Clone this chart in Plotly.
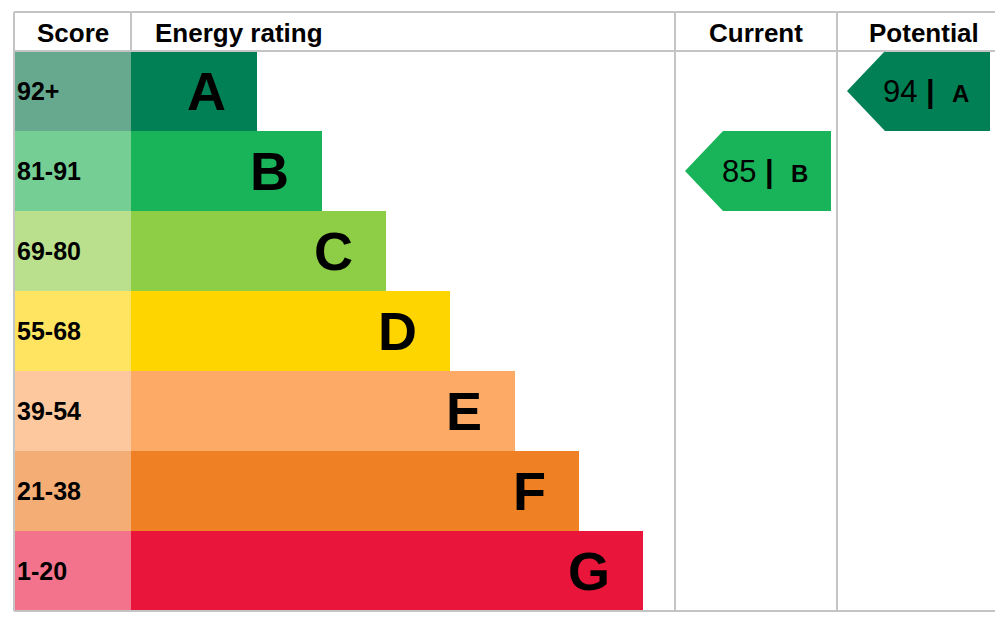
import plotly.graph_objects as go

# Data
bands = ["A", "B", "C", "D", "E", "F", "G"]
scores = ["92+", "81-91", "69-80", "55-68", "39-54", "21-38", "1-20"]
bar_ends = [249, 314, 378, 442, 507, 571, 635]  # right edge of each rating bar (px units)
band_colors = ["#008054", "#19b459", "#8dce46", "#ffd500", "#fcaa65", "#ef8023", "#e9153b"]
score_colors = ["#66a98f", "#75cf94", "#bbe08d", "#ffe461", "#fdc89d", "#f4ad74", "#f2738b"]
current = (85, "B")
potential = (94, "A")

TOP, HEAD, ROW = 4, 43, 80
SCORE_L, BAR_L = 6, 123
CUR_L, POT_L, RIGHT = 667, 829, 998
FONT = "Liberation Sans, Arial, sans-serif"

ys = [HEAD + ROW * (i + 0.5) for i in range(len(bands))]
fig = go.Figure()

fig.add_trace(go.Bar(
    y=ys, x=[BAR_L - SCORE_L] * len(bands), base=SCORE_L, orientation="h",
    width=ROW, marker=dict(color=score_colors, line_width=0),
    text=scores, textposition="inside", insidetextanchor="start",
    textfont=dict(family=FONT, size=25, color="black"), texttemplate="<b>%{text}</b>",
    hoverinfo="skip"))
fig.add_trace(go.Bar(
    y=ys, x=[e - BAR_L for e in bar_ends], base=BAR_L, orientation="h",
    width=ROW, marker=dict(color=band_colors, line_width=0),
    text=bands, textposition="inside", insidetextanchor="end",
    textfont=dict(family=FONT, size=54, color="black"), texttemplate="<b>%{text}  </b>",
    hoverinfo="skip"))


def arrow(value, band, left, right):
    i = bands.index(band)
    top, bot = HEAD + ROW * i, HEAD + ROW * (i + 1)
    tip = 38
    xs = [left + 10, left + 10 + tip, right - 8, right - 8, left + 10 + tip, left + 10]
    yy = [(top + bot) / 2, top, top, bot, bot, (top + bot) / 2]
    fig.add_trace(go.Scatter(x=xs, y=yy, fill="toself", mode="lines",
                             fillcolor=band_colors[i], line=dict(width=0), hoverinfo="skip"))
    fig.add_annotation(x=(left + right) / 2 + 8, y=(top + bot) / 2, showarrow=False,
                       text=f"{value} <b>|</b>  <b><span style='font-size:24px'>{band}</span></b>",
                       font=dict(family=FONT, size=31, color="black"))


arrow(current[0], current[1], CUR_L, CUR_L + (RIGHT - POT_L) - 5)
arrow(potential[0], potential[1], POT_L, RIGHT - 8)

bottom = HEAD + ROW * len(bands)
line = dict(color="#c4c4c4", width=2)
for x0, y0, x1, y1 in [(SCORE_L, TOP, RIGHT, TOP), (SCORE_L, HEAD, RIGHT, HEAD),
                       (SCORE_L, bottom, RIGHT, bottom), (SCORE_L, TOP, SCORE_L, bottom),
                       (BAR_L, TOP, BAR_L, HEAD), (CUR_L, TOP, CUR_L, bottom),
                       (POT_L, TOP, POT_L, bottom), (RIGHT, TOP, RIGHT, bottom)]:
    fig.add_shape(type="line", x0=x0, y0=y0, x1=x1, y1=y1, line=line, layer="above")

for txt, x, anchor in [("Score", 65, "center"), ("Energy rating", 145, "left"),
                       ("Current", 748, "center"), ("Potential", 916, "center")]:
    fig.add_annotation(x=x, y=(TOP + HEAD) / 2 + 1, text=f"<b>{txt}</b>", showarrow=False,
                       xanchor=anchor, font=dict(family=FONT, size=26, color="black"))

fig.update_layout(
    width=1003, height=618, margin=dict(l=0, r=0, t=0, b=0),
    plot_bgcolor="white", paper_bgcolor="white", showlegend=False,
    barmode="overlay", bargap=0,
    xaxis=dict(range=[0, 1003], visible=False, fixedrange=True),
    yaxis=dict(range=[618, 0], visible=False, fixedrange=True),
)
fig.write_html("out.html")
